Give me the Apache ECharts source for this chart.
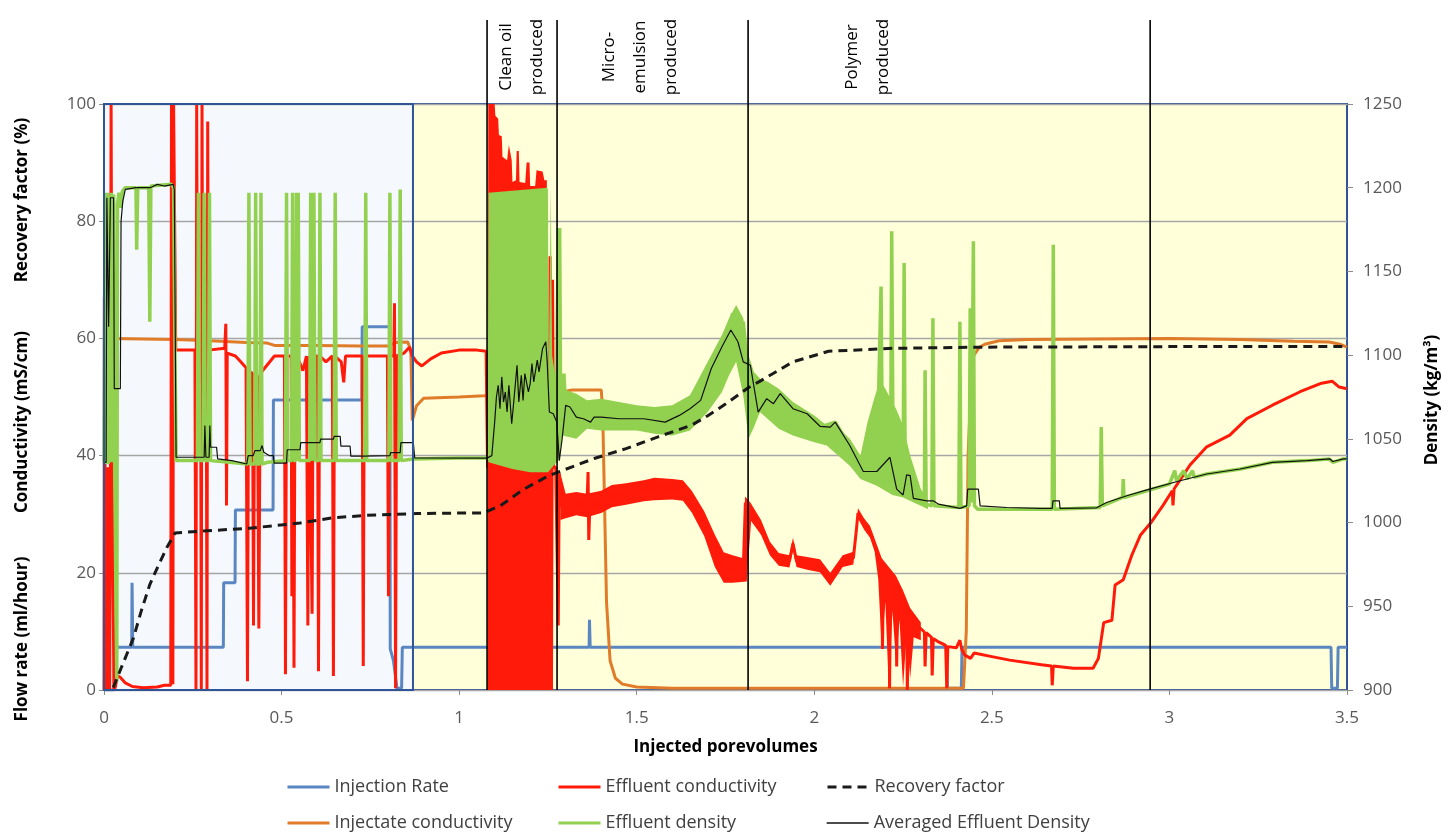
<!DOCTYPE html>
<html><head><meta charset="utf-8">
<script src="https://cdn.jsdelivr.net/npm/echarts@6/dist/echarts.min.js"></script>
<style>html,body{margin:0;padding:0;background:#fff}#c{width:1449px;height:835px}</style>
</head><body><div id="c"></div>
<script>
// ---------------- DATA ----------------
const xAxisRange = [0, 3.5];
const leftAxisRange = [0, 100];
const rightAxisRange = [900, 1250];
const regionBounds = [0, 0.87, 3.5];               // blue region | yellow region
const annotationX = [1.0786, 1.2757, 1.8136, 2.9457];
const annotationLabels = ['Clean oil\nproduced', 'Micro-\nemulsion\nproduced', 'Polymer\nproduced'];
const seriesNames = ['Injection Rate', 'Injectate conductivity', 'Effluent conductivity', 'Effluent density', 'Recovery factor', 'Averaged Effluent Density'];

const injectionRate = [[0,0],[0.029,0],[0.03,10.6],[0.033,7.3],[0.078,7.3],[0.079,18.3],[0.081,7.3],[0.336,7.3],[0.337,18.3],[0.369,18.3],[0.37,30.7],[0.476,30.7],[0.477,49.5],[0.726,49.5],[0.727,62],[0.805,62],[0.806,7],[0.815,5],[0.825,0.3],[0.838,0.3],[0.84,7.3],[1.366,7.3],[1.367,12],[1.369,7.3],[2.373,7.3],[2.375,0.3],[2.414,0.3],[2.416,7.3],[3.455,7.3],[3.457,0.3],[3.473,0.3],[3.475,7.3],[3.5,7.3]];

const injectateConductivity = [[0,59.7],[0.02,60],[0.2,59.8],[0.3,59.6],[0.4,59.3],[0.46,59.2],[0.48,58.8],[0.6,58.8],[0.72,58.7],[0.8,58.7],[0.82,59.3],[0.855,59.4],[0.864,58],[0.868,46],[0.88,48.5],[0.9,49.8],[1.0,50],[1.07,50.2],[1.3,51],[1.318,51.2],[1.4,51.2],[1.404,48],[1.41,30],[1.415,15],[1.425,5],[1.44,2],[1.46,1],[1.5,0.5],[1.6,0.3],[2.0,0.3],[2.42,0.3],[2.428,10],[2.433,40],[2.44,50],[2.448,57],[2.465,58.5],[2.48,59],[2.52,59.6],[2.6,59.8],[3.0,60],[3.2,59.8],[3.35,59.5],[3.45,59.4],[3.48,59],[3.5,58.5]];

const effluentConductivity = [[0,0],[0.001,67],[0.003,38],[0.008,0],[0.01,38],[0.014,38],[0.016,0],[0.018,38],[0.02,100],[0.023,38],[0.026,38],[0.028,0],[0.032,0.5],[0.038,2.5],[0.045,2.2],[0.06,1.2],[0.08,0.6],[0.11,0.4],[0.15,0.5],[0.17,0.8],[0.188,0.8],[0.19,100],[0.193,100],[0.194,1],[0.196,100],[0.199,100],[0.202,58],
[0.256,58],[0.259,0],[0.261,100],[0.263,58],[0.272,58],[0.274,0],[0.276,100],[0.278,58],[0.288,58],[0.29,0],[0.292,97],[0.294,58],[0.34,58.3],[0.343,62.5],[0.345,31.5],[0.347,57.5],[0.37,57],[0.385,56],[0.4,55],[0.404,1.5],[0.407,54.5],[0.418,54],[0.421,11],[0.424,54],[0.432,53.5],[0.436,10.5],[0.44,54],[0.46,55.5],[0.48,57],[0.508,57],[0.511,2.7],[0.514,57],[0.527,57],[0.529,16],[0.532,57],[0.535,3.8],[0.538,57],[0.55,56],[0.56,54.5],[0.57,57],[0.574,11],[0.577,57],[0.586,13],[0.589,57],[0.601,57],[0.604,3.2],[0.607,57],[0.625,56],[0.643,57],[0.646,2.4],[0.649,57],[0.668,56],[0.675,52.5],[0.68,57],[0.727,57],[0.73,4.1],[0.733,57],[0.76,57],[0.798,57],[0.801,16],[0.804,57],[0.816,57],[0.818,66],[0.821,0.3],[0.824,57],[0.845,57.5],[0.86,58.5],[0.868,57],[0.88,56],[0.895,55.3],[0.92,56.5],[0.95,57.5],[1.0,58],[1.05,58],[1.076,57.8],[1.08,38],
[1.25,38],[1.252,0],[1.256,74],[1.26,0],[1.263,70],[1.266,38],[1.272,38],[1.279,11],[1.282,37],[1.286,31.5],[1.3,31],[1.33,32],[1.36,31.5],[1.363,37.2],[1.365,25.6],[1.368,31.5],[1.4,32],[1.43,33.2],[1.47,33.5],[1.52,34.2],[1.57,34.9],[1.6,34.5],[1.63,34.5],[1.655,32.2],[1.692,28.2],[1.73,23.6],[1.747,20.5],[1.77,21],[1.8,20.5],[1.806,32],[1.812,24],[1.82,30.5],[1.85,27.8],[1.875,24.1],[1.894,22.2],[1.93,22],[1.94,25],[1.95,22],[1.98,21.6],[2.016,21.2],[2.045,19],[2.08,22],[2.11,22.5],[2.118,27],[2.123,30.2],[2.14,28.4],[2.157,27],[2.17,24.7],[2.19,21.3],[2.192,7],[2.195,21],[2.21,19.5],[2.212,0.3],[2.215,19],[2.23,17.9],[2.232,4],[2.235,17],[2.25,15.6],[2.26,12.2],[2.262,0],[2.265,12],[2.28,11.6],[2.31,9.9],[2.312,4],[2.315,9.8],[2.33,9],[2.332,2.5],[2.335,8.8],[2.35,8.2],[2.37,7.6],[2.373,0.3],[2.376,7.4],[2.4,7.2],[2.41,8.5],[2.415,7],[2.423,6],[2.44,5.4],[2.45,6.3],[2.5,5.7],[2.55,5.1],[2.64,4.3],[2.668,4.1],[2.67,0.8],[2.673,4.1],[2.73,3.7],[2.785,3.7],[2.8,5.4],[2.815,11.5],[2.838,11.9],[2.847,17.9],[2.87,18.8],[2.894,23],[2.918,26.4],[2.946,28.4],[2.982,31.5],[3.008,34],[3.01,31.5],[3.013,34.3],[3.058,38.4],[3.105,41.5],[3.17,43.5],[3.218,46.3],[3.29,48.6],[3.368,50.9],[3.425,52.3],[3.458,52.7],[3.478,51.7],[3.5,51.4]];

// dense oscillation envelopes of the effluent conductivity
const conductivityBlockTop = [[1.08,0],[1.082,100],[1.1,100],[1.102,98],[1.11,97.5],[1.112,94.7],[1.12,94.5],[1.122,91],[1.135,90.4],[1.14,93],[1.148,90.4],[1.15,86.7],[1.16,87],[1.162,92],[1.168,92],[1.17,86.7],[1.186,86.5],[1.19,90],[1.198,90],[1.2,86],[1.214,86],[1.218,88.7],[1.235,88.5],[1.24,87],[1.247,87],[1.25,0]];
const conductivityNoiseUpper = [[1.285,37],[1.3,33.5],[1.33,33.8],[1.36,33.5],[1.4,34],[1.43,35],[1.47,35.3],[1.52,35.8],[1.55,36.2],[1.6,36],[1.63,35.8],[1.655,34],[1.69,30.5],[1.72,26.5],[1.745,23.5],[1.77,23],[1.8,22.5],[1.805,33],[1.82,32],[1.85,29],[1.875,25.3],[1.9,23.4],[1.93,23],[1.94,26],[1.95,23],[1.98,22.7],[2.016,22.3],[2.045,20],[2.08,23],[2.11,23.6],[2.123,31],[2.14,29.3],[2.157,28],[2.17,25.8],[2.19,22.5],[2.21,21],[2.23,19.5],[2.25,17],[2.27,14],[2.3,11.5]];
const conductivityNoiseLower = [[2.3,8.5],[2.28,9],[2.27,2],[2.26,9.5],[2.25,0.5],[2.24,12],[2.23,5],[2.22,13.5],[2.21,0.5],[2.2,15],[2.19,7],[2.18,19],[2.17,23.6],[2.157,26],[2.14,27.4],[2.123,29.3],[2.11,21.4],[2.08,21],[2.045,17.8],[2.016,20.1],[1.98,20.5],[1.95,21],[1.94,23.8],[1.93,20.9],[1.9,21.2],[1.875,23],[1.85,26.5],[1.82,29],[1.81,18.5],[1.77,18.3],[1.745,18.3],[1.72,21],[1.69,26.3],[1.655,30.3],[1.63,32.3],[1.6,32.5],[1.55,32.4],[1.52,32.2],[1.47,31.6],[1.43,31.2],[1.4,30.2],[1.36,29.5],[1.33,29.8],[1.3,29.3],[1.285,29]];

const recoveryFactor = [[0.026,0.4],[0.05,4],[0.083,8.9],[0.105,13.5],[0.129,18],[0.155,21.5],[0.177,24.3],[0.2,26.8],[0.27,27.1],[0.41,27.6],[0.552,28.5],[0.646,29.4],[0.74,29.8],[0.88,30.1],[1.0,30.2],[1.07,30.2],[1.12,31.6],[1.18,34.2],[1.25,36.5],[1.284,37.3],[1.38,39.5],[1.47,41.2],[1.56,43.2],[1.655,45.2],[1.7,46.8],[1.75,48.8],[1.812,51.5],[1.85,52.8],[1.94,56],[2.04,57.8],[2.22,58.3],[2.45,58.5],[3.0,58.6],[3.5,58.6]];

const effluentDensity = [[0,1036],[0.003,1197],[0.006,1035],[0.009,1197],[0.012,1035],[0.015,1195],[0.018,1036],[0.021,1197],[0.024,1036],[0.027,1196],[0.03,1036],[0.034,1036],[0.036,905],[0.038,1190],[0.042,1197],[0.048,1188],[0.052,1198],[0.06,1200],[0.09,1200],[0.092,1163],[0.095,1200],[0.126,1200],[0.129,1120],[0.132,1201],[0.19,1202],[0.196,1200],[0.2,1100],[0.203,1037],
[0.263,1037],[0.266,1197],[0.269,1037],[0.279,1037],[0.282,1197],[0.285,1037],[0.294,1037],[0.297,1197],[0.3,1037],[0.405,1035],[0.408,1197],[0.411,1035],[0.424,1035],[0.427,1197],[0.43,1035],[0.439,1035],[0.442,1197],[0.445,1035],[0.46,1036],[0.511,1037],[0.514,1197],[0.517,1037],[0.528,1037],[0.531,1197],[0.534,1037],[0.54,1037],[0.542,1197],[0.545,1037],[0.547,1197],[0.55,1037],[0.579,1037],[0.582,1197],[0.585,1037],[0.588,1037],[0.591,1197],[0.594,1037],[0.605,1037],[0.608,1197],[0.611,1037],[0.648,1037],[0.651,1197],[0.654,1037],[0.734,1037],[0.737,1197],[0.74,1037],[0.802,1037],[0.805,1197],[0.808,1037],[0.831,1037],[0.834,1199],[0.837,1037],[0.87,1038],[1.0,1038.5],[1.078,1038.5],
[1.28,1040],[1.283,1176],[1.286,1060],[1.29,1070],[1.295,1089],[1.3,1068],[1.312,1069],[1.35,1062],[1.4,1063],[1.45,1062],[1.52,1062],[1.58,1060],[1.62,1063],[1.68,1073],[1.71,1092],[1.75,1105],[1.77,1125],[1.785,1108],[1.8,1120],[1.81,1098],[1.82,1073],[1.842,1066],[1.866,1074],[1.904,1077],[1.94,1068],[1.98,1065],[2.016,1057],[2.059,1060],[2.1,1046],[2.138,1030],[2.176,1030],[2.188,1141],[2.192,1036],[2.215,1038],[2.218,1174],[2.222,1036],[2.25,1018],[2.253,1155],[2.256,1020],[2.28,1014],[2.31,1011],[2.312,1091],[2.315,1011],[2.331,1010],[2.334,1122],[2.337,1010],[2.407,1009],[2.41,1120],[2.413,1009],[2.436,1010],[2.439,1128],[2.442,1012],[2.445,1012],[2.448,1168],[2.451,1010],[2.46,1008],[2.67,1008],[2.673,1166],[2.676,1008],[2.805,1009],[2.808,1057],[2.811,1010],[2.868,1015],[2.87,1026],[2.872,1015],[3.0,1023],[3.015,1031],[3.02,1025],[3.04,1031],[3.05,1026],[3.065,1031],[3.07,1027],[3.105,1029],[3.2,1032],[3.29,1036],[3.39,1037],[3.45,1038],[3.46,1036],[3.49,1038],[3.5,1038]];

// dense oscillation envelopes of the effluent density
const densityBlockUpper = [[1.08,1040],[1.083,1197],[1.248,1200],[1.25,1199],[1.252,1080],[1.258,1200],[1.262,1100],[1.27,1088],[1.274,1176],[1.279,1176],[1.282,1050]];
const densityBlockLower = [[1.282,1038],[1.27,1035],[1.25,1030],[1.2,1030],[1.15,1032],[1.1,1035],[1.083,1036],[1.08,1038]];
const densityNoiseUpper = [[1.282,1050],[1.29,1080],[1.33,1077],[1.36,1073],[1.4,1074],[1.45,1072],[1.5,1070],[1.55,1069],[1.6,1070],[1.65,1076],[1.7,1096],[1.74,1112],[1.76,1122],[1.78,1130],[1.8,1122],[1.815,1100],[1.83,1090],[1.847,1086],[1.87,1084],[1.9,1080],[1.94,1072],[2.0,1064],[2.035,1058],[2.05,1060],[2.1,1050],[2.13,1040],[2.15,1060],[2.17,1075],[2.185,1085],[2.2,1080],[2.23,1068],[2.25,1058],[2.27,1040],[2.3,1020],[2.32,1014]];
const densityNoiseLower = [[2.32,1008],[2.3,1010],[2.28,1012],[2.25,1015],[2.22,1016.5],[2.176,1022],[2.13,1026],[2.1,1034],[2.035,1046],[2.0,1048],[1.94,1052],[1.9,1056],[1.847,1066],[1.83,1057],[1.815,1050],[1.8,1076],[1.78,1096],[1.76,1088],[1.74,1078],[1.7,1066],[1.65,1055],[1.6,1052],[1.55,1053],[1.5,1055],[1.45,1055],[1.4,1055],[1.36,1056],[1.33,1050],[1.29,1052],[1.282,1040]];

const averagedDensity = [[0,1036],[0.006,1036],[0.008,1194],[0.012,1194],[0.013,1117],[0.017,1117],[0.018,1194],[0.027,1194],[0.029,1080],[0.046,1080],[0.048,1180],[0.053,1192],[0.06,1199],[0.09,1200],[0.13,1200],[0.15,1202],[0.17,1201],[0.195,1202],[0.198,1199],[0.203,1039],[0.282,1039],[0.284,1058],[0.287,1039],[0.296,1039],[0.298,1058],[0.3,1045],[0.317,1045],[0.32,1038],[0.36,1037],[0.402,1035],[0.406,1040],[0.42,1040],[0.425,1043],[0.44,1043],[0.445,1046],[0.45,1042],[0.465,1040],[0.477,1040],[0.479,1035.5],[0.514,1035.5],[0.516,1043.5],[0.552,1043.5],[0.554,1047.7],[0.608,1047.7],[0.61,1049.8],[0.646,1049.8],[0.648,1051.5],[0.665,1051.5],[0.667,1045.6],[0.693,1045.6],[0.695,1039.7],[0.73,1039.7],[0.732,1040],[0.805,1040],[0.807,1041.8],[0.834,1041.8],[0.836,1047.7],[0.871,1047.7],[0.875,1038.6],[1.078,1038.5],
[1.08,1039],[1.092,1040],[1.1,1060],[1.105,1075],[1.11,1082],[1.115,1068],[1.12,1087],[1.125,1072],[1.13,1078],[1.135,1066],[1.14,1082],[1.148,1059],[1.155,1075],[1.163,1094],[1.168,1072],[1.175,1088],[1.18,1073],[1.185,1089],[1.19,1090],[1.195,1078],[1.2,1083],[1.205,1095],[1.21,1084],[1.22,1097],[1.225,1090],[1.235,1104],[1.244,1108],[1.248,1096],[1.254,1066],[1.265,1065],[1.275,1060],[1.282,1037],[1.29,1050],[1.3,1070],[1.312,1069],[1.33,1063],[1.35,1062],[1.37,1060],[1.38,1063],[1.4,1063],[1.45,1062],[1.52,1062],[1.58,1060],[1.62,1064],[1.65,1068],[1.68,1073],[1.71,1092],[1.74,1105],[1.765,1115],[1.785,1108],[1.8,1096],[1.82,1094],[1.842,1066],[1.866,1074],[1.885,1071],[1.904,1077],[1.94,1068],[1.98,1065],[2.016,1057.5],[2.045,1057],[2.059,1060],[2.1,1046],[2.138,1030.5],[2.176,1030.5],[2.213,1039],[2.232,1020],[2.25,1016.5],[2.26,1028.5],[2.27,1028],[2.279,1014.5],[2.317,1013],[2.335,1013],[2.35,1011],[2.41,1008.5],[2.429,1010],[2.432,1020],[2.445,1020],[2.462,1020],[2.467,1010],[2.542,1009],[2.636,1008.5],[2.67,1008.5],[2.672,1013],[2.69,1013],[2.692,1008.5],[2.795,1008.8],[2.823,1012],[2.88,1016],[2.944,1020],[3.03,1025],[3.105,1029],[3.199,1032],[3.29,1036],[3.387,1037],[3.452,1038],[3.46,1036.5],[3.49,1038],[3.5,1038]];

// ---------------- CHART ----------------
const FONT = '"Open Sans", "DejaVu Sans", sans-serif';
const C = {
  inj: '#5A86C2', injc: '#E07B2A', eff: '#FF1A0A', dens: '#92D050', rec: '#1a1a1a', avg: '#111111'
};
const chart = echarts.init(document.getElementById('c'), null, {renderer: 'canvas'});

function band(upper, lower, color, yIdx, z) {
  return {
    type: 'custom', coordinateSystem: 'cartesian2d', xAxisIndex: 0, yAxisIndex: yIdx,
    z: z, silent: true, clip: true, data: [[1, yIdx ? 1000 : 50]],
    renderItem: function (params, api) {
      const pts = upper.concat(lower).map(p => api.coord(p));
      return {type: 'polygon', shape: {points: pts}, style: {fill: color}};
    }
  };
}
function lineS(name, data, color, yIdx, width, z, dashed) {
  return {
    name: name, type: 'line', data: data, yAxisIndex: yIdx, z: z,
    symbol: 'none', showSymbol: false, animation: false, clip: true,
    lineStyle: {color: color, width: width, type: dashed ? [9, 6] : 'solid'},
    itemStyle: {color: color}
  };
}
const regionFill = ['#F5F9FD', '#FFFFDA'];
// legend layout: column left edges and row tops
const legendCols = [286, 557, 826];
const legendRows = [778, 814];
const legendOrder = [[0, 0, 0], [1, 0, 1], [2, 1, 0], [3, 1, 1], [4, 2, 0], [5, 2, 1]];
const legendLineWidths = [3, 3, 3, 3, 3, 1.3];

const rotTitle = (txt, x, y, font, lh) => ({type: 'text', x: x, y: y, rotation: Math.PI / 2,
  style: {text: txt, font: font, lineHeight: lh, fill: '#000', align: 'center', verticalAlign: 'middle', textAlign: 'center', textVerticalAlign: 'middle'}});

const option = {
  animation: false,
  backgroundColor: '#ffffff',
  grid: {left: 104, right: 102, top: 104, bottom: 145, show: true, borderColor: '#2F5597', borderWidth: 2, backgroundColor: 'transparent'},
  xAxis: {
    type: 'value', min: xAxisRange[0], max: xAxisRange[1], interval: 0.5,
    name: 'Injected porevolumes', nameLocation: 'middle', nameGap: 49,
    nameTextStyle: {fontFamily: FONT, fontSize: 17, fontWeight: 'bold', color: '#000'},
    axisLine: {show: false},
    axisTick: {show: true, length: 5, lineStyle: {color: '#8c8c8c'}},
    axisLabel: {fontFamily: FONT, fontSize: 17, color: '#595959', margin: 20},
    splitLine: {show: false}
  },
  yAxis: [{
    type: 'value', min: leftAxisRange[0], max: leftAxisRange[1], interval: 20, position: 'left',
    axisLine: {show: false},
    axisTick: {show: true, length: 5, lineStyle: {color: '#8c8c8c'}},
    axisLabel: {fontFamily: FONT, fontSize: 17, color: '#595959', margin: 8},
    splitLine: {show: true, lineStyle: {color: '#A6A6A6', width: 1.3}}
  }, {
    type: 'value', min: rightAxisRange[0], max: rightAxisRange[1], interval: 50, position: 'right',
    axisLine: {show: false},
    axisTick: {show: true, length: 6, lineStyle: {color: '#8c8c8c'}},
    axisLabel: {fontFamily: FONT, fontSize: 17, color: '#595959', margin: 16, formatter: v => String(v)},
    splitLine: {show: false}
  }],
  legend: legendOrder.map(([i, c, r]) => ({
    left: legendCols[c], top: legendRows[r], padding: 0, itemWidth: 42, itemHeight: 14, itemGap: 0,
    selectedMode: false, itemStyle: {opacity: 0}, lineStyle: {width: legendLineWidths[i]},
    textStyle: {fontFamily: FONT, fontSize: 18, color: '#404040'}, data: [seriesNames[i]]
  })),
  graphic: [
    rotTitle('Recovery factor (%)', 22, 200, 'bold 17px ' + FONT),
    rotTitle('Conductivity (mS/cm)', 22, 422, 'bold 17px ' + FONT),
    rotTitle('Flow rate (ml/hour)', 22, 639, 'bold 17px ' + FONT),
    rotTitle('Density (kg/m³)', 1432, 400, 'bold 17px ' + FONT),
    rotTitle(annotationLabels[0], 522, 57, '17px ' + FONT, 31),
    rotTitle(annotationLabels[1], 640, 57, '17px ' + FONT, 31),
    rotTitle(annotationLabels[2], 868, 57, '17px ' + FONT, 31)
  ],
  series: [
    // region backgrounds
    {type: 'custom', coordinateSystem: 'cartesian2d', z: -1, silent: true, clip: true,
     data: regionBounds.slice(0, -1).map((b, i) => [b, regionBounds[i + 1]]),
     renderItem: function (params, api) {
       const a = api.coord([api.value(0), leftAxisRange[1]]);
       const b = api.coord([api.value(1), leftAxisRange[0]]);
       return {type: 'rect', shape: {x: a[0], y: a[1], width: b[0] - a[0], height: b[1] - a[1]}, style: {fill: regionFill[params.dataIndex]}};
     }},
    // blue region frame
    {type: 'custom', coordinateSystem: 'cartesian2d', z: 30, silent: true, clip: false,
     data: [[regionBounds[0], regionBounds[1]]],
     renderItem: function (params, api) {
       const a = api.coord([api.value(0), leftAxisRange[1]]);
       const b = api.coord([api.value(1), leftAxisRange[0]]);
       return {type: 'rect', shape: {x: a[0], y: a[1], width: b[0] - a[0], height: b[1] - a[1]}, style: {fill: 'none', stroke: '#2F5597', lineWidth: 2}};
     }},
    lineS(seriesNames[0], injectionRate, C.inj, 0, 3, 3),
    lineS(seriesNames[1], injectateConductivity, C.injc, 0, 3, 4),
    band(conductivityBlockTop, [[1.25, 0], [1.08, 0]], C.eff, 0, 5),
    band(conductivityNoiseUpper, conductivityNoiseLower, C.eff, 0, 5),
    lineS(seriesNames[2], effluentConductivity, C.eff, 0, 3, 5),
    band(densityBlockUpper, densityBlockLower, C.dens, 1, 6),
    band(densityNoiseUpper, densityNoiseLower, C.dens, 1, 6),
    lineS(seriesNames[3], effluentDensity, C.dens, 1, 3.5, 6),
    lineS(seriesNames[4], recoveryFactor, C.rec, 0, 3, 7, true),
    lineS(seriesNames[5], averagedDensity, C.avg, 1, 1.2, 8),
    // annotation boundaries (extend above the plot into the label band)
    {type: 'custom', coordinateSystem: 'cartesian2d', z: 20, silent: true, clip: false,
     data: annotationX.map(x => [x, 0]),
     renderItem: function (params, api) {
       const b = api.coord([api.value(0), leftAxisRange[0]]);
       const t = api.coord([api.value(0), leftAxisRange[1]]);
       return {type: 'line', shape: {x1: b[0], y1: b[1], x2: b[0], y2: t[1] - 84}, style: {stroke: '#000', lineWidth: 1.6}};
     }}
  ]
};
chart.setOption(option);
</script>
</body></html>
